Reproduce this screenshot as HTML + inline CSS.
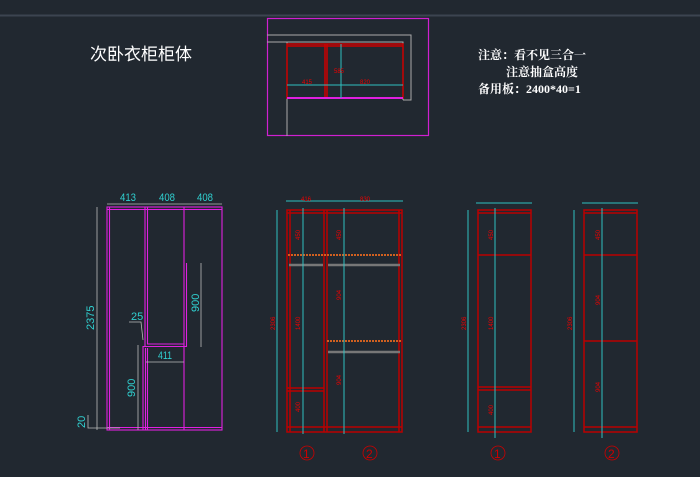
<!DOCTYPE html>
<html><head><meta charset="utf-8"><style>
html,body{margin:0;padding:0;background:#212830;}
svg{display:block}
text{font-family:"Liberation Sans","Noto Sans CJK SC",sans-serif}
.s{font-family:"Liberation Serif","Noto Serif CJK SC",serif}
</style></head><body>
<svg width="700" height="477" viewBox="0 0 700 477" xmlns="http://www.w3.org/2000/svg">
<rect width="700" height="477" fill="#212830"/>
<line x1="0" y1="15.5" x2="700" y2="15.5" stroke="#3c4450" stroke-width="2"/>
<text x="90" y="60" fill="#fff" font-size="17">次卧衣柜柜体</text>
<g class="s" fill="#fff" font-size="12" font-weight="bold">
<text x="478" y="59" class="s">注意：看不见三合一</text>
<text x="506" y="76" class="s">注意抽盒高度</text>
<text x="478" y="93" class="s">备用板：2400*40=1</text>
</g>
<!-- plan view -->
<rect x="267.5" y="18.5" width="161" height="117" fill="none" stroke="#d020d0" stroke-width="1.2"/>
<g stroke="#aaa" fill="none" stroke-width="1">
<polyline points="267,35 411,35 411,100 403,100"/>
<polyline points="267,42 403,42 403,100"/>
<line x1="287" y1="42" x2="287" y2="136"/>
</g>
<g stroke="#c00" fill="none" stroke-width="1.5">
<rect x="287" y="44" width="116" height="54"/>
<line x1="325" y1="44" x2="325" y2="98"/><line x1="327" y1="44" x2="327" y2="98"/>
<line x1="287" y1="46" x2="403" y2="46"/>
</g>
<line x1="287" y1="98" x2="403" y2="98" stroke="#e020e0" stroke-width="2"/>
<g stroke="#30c0c0" stroke-width="1">
<line x1="287" y1="85" x2="403" y2="85"/><line x1="341" y1="44" x2="341" y2="98"/>
</g>
<g fill="#e00" font-size="6"><text x="302" y="84">415</text><text x="360" y="84">820</text><text x="334" y="73">585</text></g>
<!-- left elevation -->
<g stroke="#e020e0" fill="none" stroke-width="1.1">
<rect x="107" y="207" width="115" height="223"/>
<line x1="107" y1="209.5" x2="222" y2="209.5"/><line x1="107" y1="427.5" x2="222" y2="427.5"/>
<line x1="109.5" y1="207" x2="109.5" y2="430"/>
<line x1="145" y1="207" x2="145" y2="346"/>
<line x1="147.5" y1="207" x2="147.5" y2="344"/>
<line x1="184" y1="207" x2="184" y2="430"/>
<polyline points="186.5,263 186.5,346.5 143,346.5 143,430"/>
<polyline points="147,344 184,344"/>
<line x1="145.5" y1="348" x2="145.5" y2="430"/>
<line x1="147.5" y1="348" x2="147.5" y2="430"/>
</g>
<g stroke="#bbb" stroke-width="0.8" fill="none">
<line x1="97" y1="207" x2="97" y2="430"/>
<line x1="107" y1="204" x2="222" y2="204"/>
<line x1="201" y1="263" x2="201" y2="347"/>
<line x1="146" y1="362" x2="184" y2="362"/>
<line x1="138" y1="345" x2="138" y2="430"/>
<polyline points="129,322 141,322 143,340"/>
<polyline points="88,415 88,428 120,428"/>
</g>
<g fill="#30d0d0" font-size="11">
<text x="120" y="201" textLength="16" lengthAdjust="spacingAndGlyphs">413</text><text x="159" y="201" textLength="16" lengthAdjust="spacingAndGlyphs">408</text><text x="197" y="201" textLength="16" lengthAdjust="spacingAndGlyphs">408</text>
<text x="158" y="359" textLength="14" lengthAdjust="spacingAndGlyphs">411</text>
<text transform="translate(94,330) rotate(-90)">2375</text>
<text transform="translate(199,312) rotate(-90)">900</text>
<text transform="translate(135,397) rotate(-90)">900</text>
<text x="131" y="320">25</text>
<text transform="translate(85,428) rotate(-90)">20</text>
</g>
<!-- elevation 2 -->
<g stroke="#b00" fill="none" stroke-width="1.5">
<rect x="287" y="210" width="115" height="222"/>
<line x1="287" y1="213" x2="402" y2="213"/>
<line x1="290" y1="210" x2="290" y2="432"/>
<line x1="399" y1="210" x2="399" y2="432"/>
<line x1="324" y1="210" x2="324" y2="432"/><line x1="327" y1="210" x2="327" y2="432"/>
<line x1="287" y1="388" x2="324" y2="388"/><line x1="287" y1="391" x2="324" y2="391"/>
<line x1="287" y1="427" x2="402" y2="427"/>
</g>
<g stroke="#d06020" stroke-width="2" stroke-dasharray="2,1">
<line x1="288" y1="255" x2="401" y2="255"/><line x1="327" y1="341" x2="401" y2="341"/>
</g>
<g stroke="#777" stroke-width="2.5">
<line x1="289" y1="265" x2="323" y2="265"/><line x1="328" y1="265" x2="400" y2="265"/><line x1="328" y1="352" x2="400" y2="352"/>
</g>
<g stroke="#30c0c0" stroke-width="1">
<line x1="303" y1="208" x2="303" y2="434"/><line x1="344" y1="208" x2="344" y2="434"/>
<line x1="277" y1="210" x2="277" y2="432"/><line x1="286" y1="201" x2="403" y2="201"/>
</g>
<g fill="#e00" font-size="6">
<text transform="translate(300,240) rotate(-90)">450</text><text transform="translate(341,240) rotate(-90)">450</text>
<text transform="translate(300,330) rotate(-90)">1400</text><text transform="translate(341,300) rotate(-90)">904</text>
<text transform="translate(341,385) rotate(-90)">904</text><text transform="translate(300,412) rotate(-90)">400</text>
<text transform="translate(275,330) rotate(-90)">2306</text>
<text x="301" y="201">416</text><text x="360" y="201">830</text>
</g>
<g fill="none" stroke="#c00"><circle cx="307" cy="453" r="7" stroke-width="0.8"/><circle cx="370" cy="453" r="7" stroke-width="0.8"/></g>
<g fill="#c00" font-size="12"><text x="303" y="458">1</text><text x="366" y="458">2</text></g>
<!-- elevation 3 -->
<g stroke="#b00" fill="none" stroke-width="1.5">
<rect x="478" y="210" width="53" height="222"/><line x1="478" y1="213" x2="531" y2="213"/>
<line x1="478" y1="255" x2="531" y2="255"/><line x1="478" y1="387" x2="531" y2="387"/><line x1="478" y1="390" x2="531" y2="390"/>
<line x1="478" y1="427" x2="531" y2="427"/>
</g>
<!-- elevation 4 -->
<g stroke="#b00" fill="none" stroke-width="1.5">
<rect x="584" y="210" width="53" height="222"/><line x1="584" y1="213" x2="637" y2="213"/>
<line x1="584" y1="255" x2="637" y2="255"/><line x1="584" y1="341" x2="637" y2="341"/>
<line x1="584" y1="427" x2="637" y2="427"/>
</g>
<g stroke="#30c0c0" stroke-width="1">
<line x1="495" y1="208" x2="495" y2="438"/><line x1="602" y1="208" x2="602" y2="438"/>
<line x1="468" y1="210" x2="468" y2="432"/><line x1="574" y1="210" x2="574" y2="432"/>
<line x1="476" y1="203" x2="532" y2="203"/><line x1="582" y1="203" x2="638" y2="203"/>
</g>
<g fill="#e00" font-size="6">
<text transform="translate(493,240) rotate(-90)">450</text><text transform="translate(600,240) rotate(-90)">450</text>
<text transform="translate(493,330) rotate(-90)">1400</text><text transform="translate(600,305) rotate(-90)">904</text>
<text transform="translate(600,392) rotate(-90)">904</text><text transform="translate(493,415) rotate(-90)">400</text>
<text transform="translate(466,330) rotate(-90)">2306</text><text transform="translate(572,330) rotate(-90)">2306</text>
</g>
<g fill="none" stroke="#c00"><circle cx="498" cy="453" r="7" stroke-width="0.8"/><circle cx="612" cy="453" r="7" stroke-width="0.8"/></g>
<g fill="#c00" font-size="12"><text x="494" y="458">1</text><text x="608" y="458">2</text></g>
</svg>
</body></html>
